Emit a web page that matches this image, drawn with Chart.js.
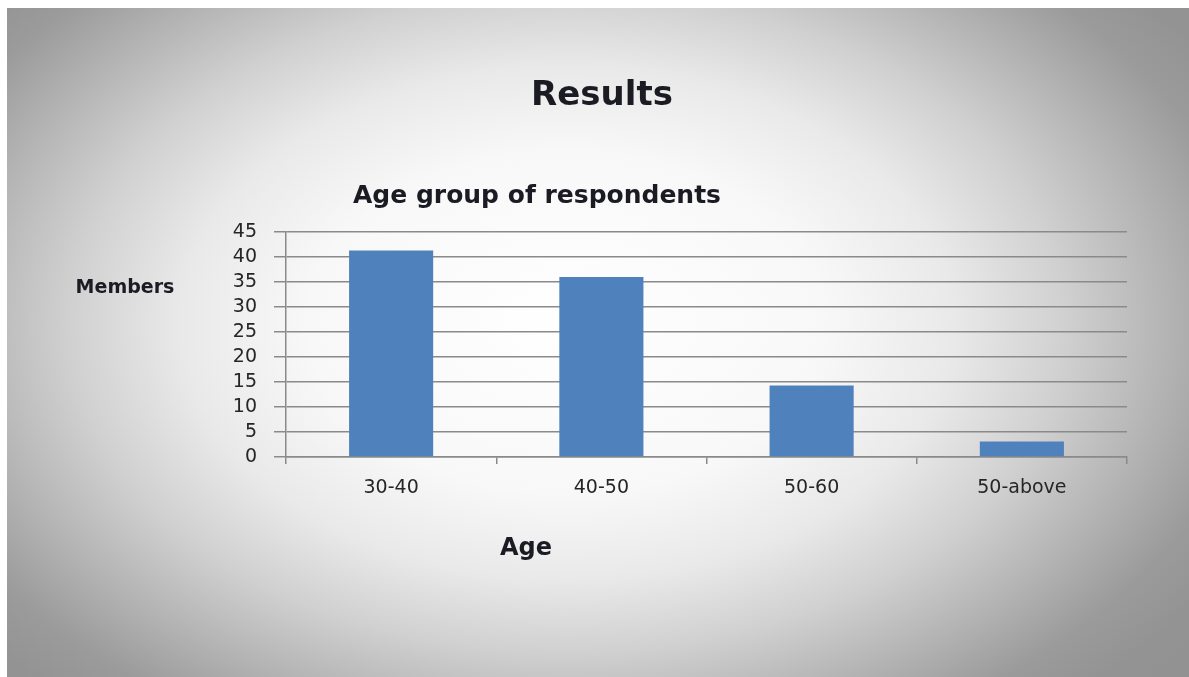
<!DOCTYPE html>
<html>
<head>
<meta charset="utf-8">
<script src="https://cdn.jsdelivr.net/npm/chart.js@4.4.0/dist/chart.umd.min.js"></script>
<style>
	html, body { margin: 0; padding: 0; background: #ffffff; }
	.slide {
		position: absolute; left: 7px; top: 8px; width: 1182px; height: 669px;
		background: radial-gradient(ellipse 860px 570px at 560px 315px,
			#ffffff 0%, #f8f8f8 30%, #e9e9e9 45%, #d0d0d0 58%, #b8b8b8 68%, #9b9b9b 80%, #939393 88%, #919191 100%);
	}
	.container-canvas { position: absolute; left: 0; top: 0; width: 1189px; height: 677px; }
</style>
</head>
<body>
<div class="slide"></div>
<div class="container-canvas">
	<canvas id="myChart" width="1189" height="677"></canvas>
</div>
<script>
const chartTitle = "Results";
const chartSubtitle = "Age group of respondents";
const yTitle = "Members";
const xTitle = "Age";
const ageGroups = ["30-40", "40-50", "50-60", "50-above"];
const members = [41.3, 36, 14.3, 3.1];
const yTicks = [0, 5, 10, 15, 20, 25, 30, 35, 40, 45];

const FONT = "'DejaVu Sans', sans-serif";

// titles are drawn by hand, the slide places them off-centre
const slideText = {
	id: 'slideText',
	afterDraw(chart) {
		const ctx = chart.ctx;
		const a = chart.chartArea;
		ctx.save();
		ctx.fillStyle = '#1b1b24';
		ctx.textAlign = 'center';
		ctx.textBaseline = 'middle';
		ctx.font = "bold 34px " + FONT;
		ctx.fillText(chartTitle, a.left + 316, a.top - 136);
		ctx.font = "bold 25px " + FONT;
		ctx.fillText(chartSubtitle, a.left + 251, a.top - 36);
		ctx.font = "bold 19px " + FONT;
		ctx.fillText(yTitle, a.left - 161, a.top + 56);
		ctx.font = "bold 24px " + FONT;
		ctx.fillText(xTitle, a.left + 240, a.bottom + 92);
		ctx.restore();
	}
};

const ctx = document.getElementById('myChart');
const myChart = new Chart(ctx, {
	type: 'bar',
	data: {
		labels: [...ageGroups],
		datasets: [{
			label: chartSubtitle,
			data: [...members],
			backgroundColor: '#4f81bd',
			borderWidth: 0,
			categoryPercentage: 1,
			barPercentage: 0.4
		}]
	},
	options: {
		responsive: false,
		animation: false,
		layout: {
			padding: { left: 200, top: 232, right: 62, bottom: 160 }
		},
		plugins: {
			legend: { display: false },
			tooltip: { enabled: false }
		},
		scales: {
			x: {
				offset: true,
				grid: {
					offset: true,
					drawOnChartArea: false,
					drawTicks: true,
					tickLength: 7,
					color: '#8a8a8a',
					lineWidth: 1.5
				},
				border: { color: '#8a8a8a', width: 1.5 },
				ticks: {
					color: '#262626',
					padding: 13,
					maxRotation: 0,
					font: { family: FONT, size: 19 }
				},
				afterFit: s => { s.height = 60; }
			},
			y: {
				min: 0,
				max: 45,
				afterBuildTicks: s => { s.ticks = yTicks.map(v => ({ value: v })); },
				grid: {
					color: '#8a8a8a',
					lineWidth: 1.5,
					tickLength: 12
				},
				border: { color: '#8a8a8a', width: 1.5 },
				ticks: {
					color: '#262626',
					padding: 17,
					autoSkip: false,
					font: { family: FONT, size: 19 }
				},
				afterFit: s => { s.width = 86; }
			}
		}
	},
	plugins: [slideText]
});
</script>
</body>
</html>
